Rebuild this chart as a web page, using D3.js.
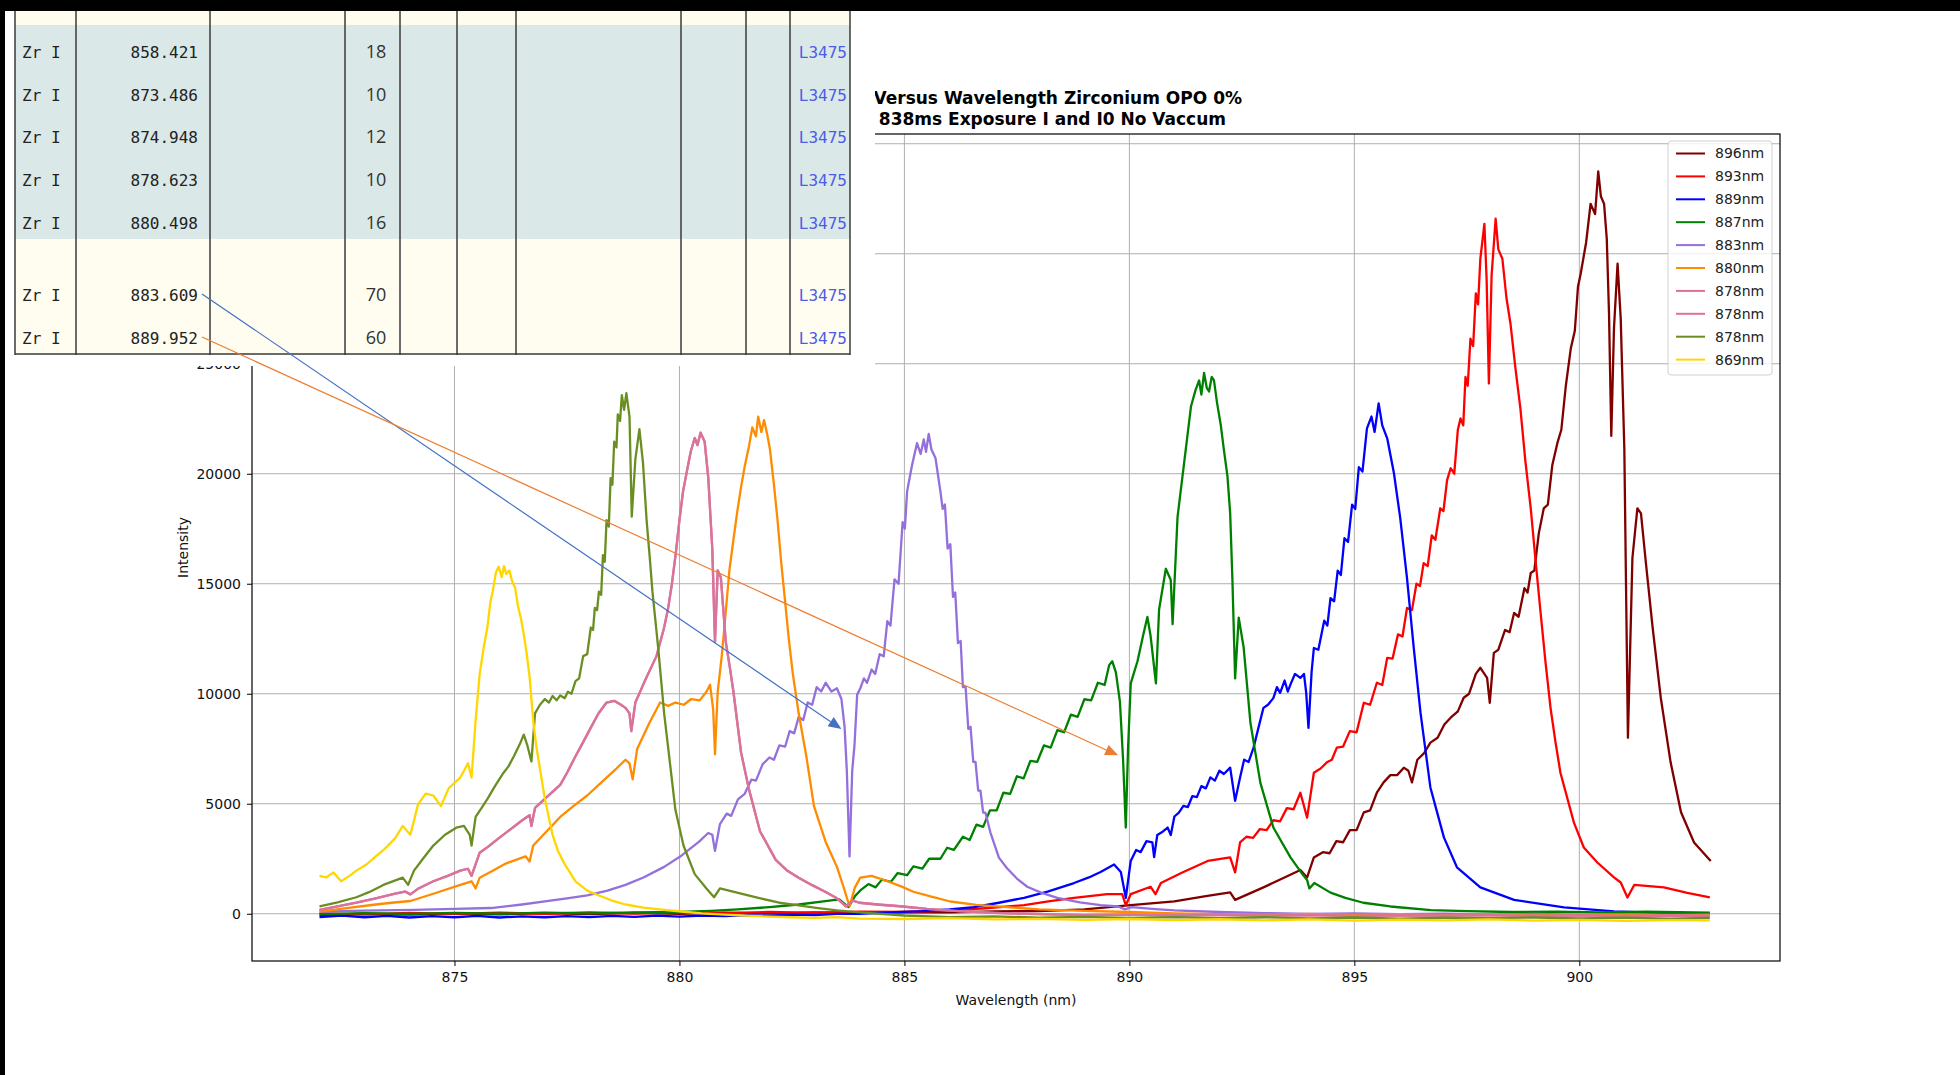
<!DOCTYPE html>
<html>
<head>
<meta charset="utf-8">
<script src="https://cdn.jsdelivr.net/npm/d3@7"></script>
<style>
  html, body { margin: 0; padding: 0; background: #fff; }
  svg { display: block; }
</style>
</head>
<body>
<svg id="chart" width="1960" height="1075"></svg>
<script>
// ---- Spectra: [wavelength (nm), intensity] ----
const s896 = [[872.0,-60],[873,0],[874,-40],[875,20],[876,-30],[877,30],[878,-20],[879,40],[880,0],[881,50],[882,20],[883,60],[884,40],[885,80],[886,60],[887,110],[888,120],[889,200],[890.03,390],[891.0,560],[891.7,800],[892.24,970],[892.35,630],[892.98,1200],[893.4,1600],[893.8,1990],[893.95,1650],[894.1,2560],[894.3,2800],[894.45,2750],[894.6,3300],[894.75,3250],[894.9,3800],[895.05,3800],[895.21,4610],[895.35,4700],[895.5,5500],[895.65,5970],[895.8,6300],[895.95,6300],[896.1,6640],[896.2,6500],[896.28,5970],[896.4,7000],[896.55,7300],[896.69,7780],[896.85,8000],[897.0,8600],[897.14,8910],[897.3,9200],[897.43,9820],[897.55,10000],[897.7,10900],[897.8,11180],[897.95,10720],[898.01,9590],[898.1,11860],[898.2,12000],[898.35,12900],[898.45,12800],[898.55,13670],[898.65,13500],[898.78,14800],[898.85,14600],[898.92,15490],[899.0,15600],[899.1,17300],[899.21,18430],[899.3,18600],[899.4,20400],[899.51,21380],[899.6,22000],[899.7,24000],[899.81,25690],[899.9,26500],[899.97,28500],[900.03,29090],[900.15,30500],[900.25,32270],[900.35,31800],[900.42,33740],[900.48,32600],[900.55,32270],[900.61,30680],[900.66,27280],[900.71,21720],[900.77,26600],[900.85,29550],[900.92,27050],[901.0,21160],[901.08,8000],[901.18,16170],[901.29,18430],[901.37,18200],[901.48,15940],[901.63,12990],[901.81,9820],[902.03,6870],[902.26,4610],[902.55,3240],[902.85,2560],[902.92,2400]];

const s893 = [[872.0,20],[873,-30],[874,40],[875,-10],[876,50],[877,0],[878,60],[879,10],[880,70],[881,20],[882,80],[883,40],[884,100],[885,80],[886,150],[886.8,250],[887.66,390],[888.2,560],[888.77,724],[889.51,890],[889.84,890],[889.92,390],[890.03,890],[890.47,1228],[890.58,890],[890.7,1396],[891.2,1900],[891.74,2400],[892.24,2560],[892.35,1880],[892.46,3240],[892.6,3500],[892.75,3450],[892.9,3850],[893.05,3800],[893.2,4250],[893.35,4200],[893.5,4800],[893.65,4750],[893.8,5500],[893.95,4370],[894.1,6410],[894.25,6600],[894.4,6900],[894.5,7000],[894.61,7550],[894.75,7600],[894.9,8300],[895.05,8250],[895.21,9590],[895.35,9500],[895.5,10500],[895.62,10400],[895.73,11630],[895.85,11600],[895.97,12700],[896.07,12600],[896.17,13900],[896.28,13800],[896.38,15000],[896.46,14900],[896.54,15940],[896.63,15800],[896.72,17200],[896.8,17000],[896.91,18430],[896.98,18300],[897.06,19700],[897.14,20250],[897.22,20000],[897.3,22000],[897.36,22520],[897.42,22200],[897.47,24400],[897.52,24000],[897.58,26140],[897.64,25800],[897.7,28200],[897.75,27700],[897.8,29770],[897.89,31360],[897.94,28800],[897.99,24100],[898.05,29000],[898.14,31590],[898.2,30200],[898.29,29770],[898.38,28000],[898.47,26820],[898.58,24800],[898.69,22970],[898.8,20600],[898.92,18430],[899.03,16000],[899.14,13670],[899.25,11400],[899.36,9360],[899.47,7800],[899.58,6410],[899.88,4140],[900.1,3010],[900.4,2330],[900.77,1650],[900.92,1420],[901.07,740],[901.22,1310],[901.88,1200],[902.4,950],[902.9,740]];

const s889 = [[872.0,-150],[872.5,-90],[873,-160],[873.5,-100],[874,-170],[874.5,-110],[875,-160],[875.5,-100],[876,-170],[876.5,-120],[877,-160],[877.5,-110],[878,-150],[878.5,-100],[879,-140],[879.5,-90],[880,-130],[880.5,-80],[881,-110],[881.5,-60],[882,-90],[882.5,-40],[883,-60],[883.5,-10],[884,0],[884.7,60],[885.4,120],[886,200],[886.54,300],[887.1,500],[887.66,724],[888.2,1020],[888.77,1396],[889.1,1650],[889.36,1900],[889.66,2236],[889.81,1900],[889.92,724],[890.03,2400],[890.15,2900],[890.25,2800],[890.38,3300],[890.51,3244],[890.55,2570],[890.62,3580],[890.72,3700],[890.85,3916],[890.92,3580],[891.0,4420],[891.1,4600],[891.2,4900],[891.3,4850],[891.4,5350],[891.5,5300],[891.6,5800],[891.7,5700],[891.8,6200],[891.9,6050],[892.0,6500],[892.1,6350],[892.24,6640],[892.35,5130],[892.46,6190],[892.55,7000],[892.65,6900],[892.76,7550],[892.85,8300],[892.98,9360],[893.08,9500],[893.2,9800],[893.28,10300],[893.35,10040],[893.45,10600],[893.52,10100],[893.59,10470],[893.68,10900],[893.8,10720],[893.88,10900],[893.93,10040],[893.98,8450],[894.05,11000],[894.1,12080],[894.2,12000],[894.33,13320],[894.4,13100],[894.47,14350],[894.55,14200],[894.63,15600],[894.7,15400],[894.78,17070],[894.86,16900],[894.95,18600],[895.02,18400],[895.1,20300],[895.18,20100],[895.28,22060],[895.38,22600],[895.45,21900],[895.54,23200],[895.62,22200],[895.73,21610],[895.88,20020],[896.02,17980],[896.17,15260],[896.32,12080],[896.47,9140],[896.69,5740],[896.99,3470],[897.28,2110],[897.8,1200],[898.55,630],[899.66,290],[900.77,110],[901.8,40],[902.9,0]];

const s887 = [[872.0,-20],[873,30],[874,-10],[875,40],[876,0],[877,50],[878,20],[879,60],[880,80],[880.7,130],[881.3,200],[882.0,300],[882.65,420],[883.2,560],[883.55,650],[883.76,300],[883.9,800],[884.02,1060],[884.2,1350],[884.36,1200],[884.5,1550],[884.7,1450],[884.85,1850],[885.06,1750],[885.2,2150],[885.4,2050],[885.55,2500],[885.8,2500],[885.95,3000],[886.1,2900],[886.3,3500],[886.45,3350],[886.6,4050],[886.75,3950],[886.9,4700],[887.05,4700],[887.2,5500],[887.35,5450],[887.5,6250],[887.65,6150],[887.8,6950],[887.95,6900],[888.1,7650],[888.25,7550],[888.4,8350],[888.55,8250],[888.7,9050],[888.85,8950],[889.0,9750],[889.15,9700],[889.3,10500],[889.45,10400],[889.55,11300],[889.62,11476],[889.7,10970],[889.79,9630],[889.86,7000],[889.92,3916],[889.97,7500],[890.03,10470],[890.18,11476],[890.3,12600],[890.4,13490],[890.47,12650],[890.59,10470],[890.66,13830],[890.81,15680],[890.92,15170],[890.96,13160],[891.07,18030],[891.22,20550],[891.37,23070],[891.47,23800],[891.55,24240],[891.6,23600],[891.66,24580],[891.72,23900],[891.77,23740],[891.83,24400],[891.88,24240],[891.95,23200],[892.03,22230],[892.1,21100],[892.18,19880],[892.24,18200],[892.29,15170],[892.35,10700],[892.43,13460],[892.54,12100],[892.69,8680],[892.91,5960],[893.2,3920],[893.58,2560],[893.81,1900],[893.95,1530],[894.0,1150],[894.11,1396],[894.47,960],[894.8,720],[895.2,500],[895.8,330],[896.7,160],[897.5,120],[898.5,80],[899.5,100],[900.5,60],[901.5,90],[902.9,50]];

const s883 = [[872.0,100],[873,140],[874.1,180],[875,220],[875.81,260],[876.5,420],[877.09,580],[877.5,700],[877.95,830],[878.4,1050],[878.8,1310],[879.2,1650],[879.66,2130],[880.05,2650],[880.43,3265],[880.64,3670],[880.73,3590],[880.79,2860],[880.9,4075],[881.05,4550],[881.15,4450],[881.3,5200],[881.45,5450],[881.6,6100],[881.7,6050],[881.85,6800],[882.0,7100],[882.1,7000],[882.22,7650],[882.35,7600],[882.45,8300],[882.55,8200],[882.65,8950],[882.75,8800],[882.85,9600],[882.95,9500],[883.05,10300],[883.15,10100],[883.25,10500],[883.38,10100],[883.5,10250],[883.6,9760],[883.67,8500],[883.72,6500],[883.78,2600],[883.84,6500],[883.89,7650],[883.95,9960],[884.02,10250],[884.1,10700],[884.17,10500],[884.27,11100],[884.35,10900],[884.45,11800],[884.54,11700],[884.62,13300],[884.69,13100],[884.78,15200],[884.87,15000],[884.96,17800],[885.01,17500],[885.06,19200],[885.17,20400],[885.28,21390],[885.36,20900],[885.43,21560],[885.48,21000],[885.54,21810],[885.6,21100],[885.69,20720],[885.8,19200],[885.85,18400],[885.9,18600],[885.96,16600],[886.02,16800],[886.08,14400],[886.13,14600],[886.19,12300],[886.25,12400],[886.3,10300],[886.36,10300],[886.42,8400],[886.47,8500],[886.53,6900],[886.58,6900],[886.64,5600],[886.69,5600],[886.75,4600],[886.8,4600],[886.91,3700],[887.1,2550],[887.28,2068],[887.5,1600],[887.73,1228],[888.05,950],[888.4,724],[888.9,520],[889.36,388],[889.75,330],[889.9,200],[890.05,300],[890.5,220],[891,150],[892,80],[893,30],[894,-10],[895,10],[896,-20],[897,0],[898,-30],[899,-10],[900,-40],[901,-20],[902,-50],[902.9,-30]];

const s880 = [[872.0,100],[872.6,260],[873.25,420],[873.6,500],[874.02,580],[874.53,910],[875.13,1310],[875.38,1475],[875.47,1150],[875.56,1640],[875.85,1950],[876.15,2290],[876.58,2610],[876.67,2370],[876.75,3100],[877.05,3750],[877.35,4400],[877.65,4900],[877.95,5375],[878.38,6190],[878.6,6600],[878.8,7000],[878.89,6840],[878.96,6110],[879.06,7490],[879.32,8625],[879.57,9600],[879.75,9450],[879.91,9600],[880.1,9500],[880.26,9760],[880.45,9700],[880.6,10090],[880.68,10410],[880.75,9280],[880.79,7250],[880.85,10090],[880.94,11710],[881.02,13500],[881.11,15610],[881.2,17000],[881.28,18210],[881.37,19400],[881.45,20325],[881.55,21300],[881.62,22110],[881.7,21700],[881.75,22600],[881.82,21900],[881.88,22440],[881.95,21800],[882.01,21140],[882.1,19500],[882.18,17890],[882.26,16000],[882.35,14150],[882.43,12500],[882.52,10900],[882.65,9110],[882.82,7160],[882.99,4890],[883.25,3265],[883.5,2130],[883.65,1200],[883.78,340],[883.9,1200],[884.02,1640],[884.27,1720],[884.6,1500],[884.94,1235],[885.2,1000],[885.6,780],[886.02,556],[886.6,400],[887.28,300],[888,200],[889,130],[890,80],[891,20],[892,-20],[893,-40],[894,-10],[895,-50],[896,-20],[897,-60],[898,-30],[899,-70],[900,-40],[901,-80],[902,-50],[902.9,-70]];

const s878a = [[872.0,180],[872.4,330],[872.82,500],[873.25,700],[873.68,910],[873.9,1010],[874.02,880],[874.2,1150],[874.53,1475],[874.85,1720],[875.13,1960],[875.3,2045],[875.38,1720],[875.56,2775],[875.75,3050],[875.98,3425],[876.25,3850],[876.5,4240],[876.67,4480],[876.71,3990],[876.79,4810],[877.05,5300],[877.35,5860],[877.5,6400],[877.69,7160],[877.86,7800],[878.03,8460],[878.2,9100],[878.38,9600],[878.55,9680],[878.7,9500],[878.8,9360],[878.89,9110],[878.93,8300],[879.02,9600],[879.23,10575],[879.49,11710],[879.66,13010],[879.75,13900],[879.83,14960],[879.92,16400],[880.0,17890],[880.08,19200],[880.17,20160],[880.25,21000],[880.34,21625],[880.4,21300],[880.47,21870],[880.56,21460],[880.64,19840],[880.73,16590],[880.79,12360],[880.85,15610],[880.92,15290],[881.03,12360],[881.12,11200],[881.2,10090],[881.37,7330],[881.54,5700],[881.79,3750],[882.14,2450],[882.4,1950],[882.65,1640],[882.95,1300],[883.25,990],[883.5,700],[883.7,340],[883.85,600],[884.0,500],[884.4,420],[884.9,340],[885.5,220],[886.2,120],[887,40],[888,-20],[889,-60],[890,-40],[891,-80],[892,-50],[893,-90],[894,-60],[895,-100],[896,-70],[897,-90],[898,-60],[899,-100],[900,-70],[901,-110],[902,-80],[902.9,-100]];

const s878b = s878a.map(d => [d[0], d[1]]);

const s878c = [[872.0,340],[872.4,520],[872.82,750],[873.1,980],[873.42,1310],[873.85,1640],[873.97,1310],[874.1,1960],[874.3,2500],[874.53,3100],[874.79,3590],[875.04,3910],[875.21,3990],[875.34,3590],[875.38,3100],[875.47,4400],[875.6,4800],[875.73,5210],[875.9,5800],[876.07,6350],[876.2,6700],[876.32,7160],[876.45,7700],[876.54,8140],[876.62,7650],[876.71,6920],[876.79,9110],[876.9,9500],[877.01,9760],[877.1,9600],[877.18,9900],[877.27,9700],[877.35,9925],[877.45,9800],[877.52,10090],[877.6,10000],[877.69,10575],[877.77,10700],[877.86,11710],[877.95,11800],[878.03,13010],[878.08,12900],[878.12,13900],[878.17,13800],[878.21,14640],[878.26,14500],[878.3,16300],[878.34,16000],[878.38,17890],[878.43,17600],[878.47,19800],[878.51,19500],[878.55,21460],[878.6,21200],[878.63,22700],[878.68,22400],[878.72,23575],[878.77,22900],[878.82,23660],[878.89,22600],[878.94,18050],[879.02,20650],[879.11,22030],[879.19,20490],[879.27,17890],[879.34,16200],[879.4,14640],[879.53,12040],[879.66,9110],[879.79,6840],[879.91,4725],[880.09,3100],[880.34,1800],[880.6,1150],[880.77,750],[880.9,1150],[881.37,910],[881.8,700],[882.22,500],[882.65,380],[883.08,260],[883.5,150],[884,60],[885,-80],[886,-150],[887,-120],[888,-180],[889,-140],[890,-190],[891,-150],[892,-200],[893,-160],[894,-210],[895,-170],[896,-220],[897,-180],[898,-200],[899,-170],[900,-210],[901,-180],[902,-220],[902.9,-190]];

const s869 = [[872.0,1720],[872.15,1650],[872.31,1880],[872.48,1475],[872.65,1700],[872.82,1960],[873.05,2250],[873.25,2610],[873.45,2950],[873.68,3425],[873.85,3990],[874.02,3590],[874.19,4970],[874.36,5460],[874.53,5375],[874.7,4890],[874.87,5700],[875.0,5950],[875.13,6190],[875.3,6840],[875.38,6190],[875.47,8790],[875.56,10900],[875.65,12100],[875.73,13010],[875.8,14200],[875.85,14640],[875.92,15500],[875.98,15775],[876.05,15300],[876.1,15800],[876.15,15450],[876.22,15600],[876.28,15125],[876.35,14800],[876.41,13990],[876.48,13400],[876.54,12690],[876.6,11900],[876.67,10740],[876.75,8790],[876.82,7600],[876.88,6840],[877.01,5210],[877.18,3590],[877.3,2850],[877.44,2290],[877.69,1475],[877.95,1050],[878.21,830],[878.5,600],[878.8,420],[879.2,280],[879.66,180],[880.1,90],[880.5,20],[881,-40],[881.5,-90],[882,-130],[882.5,-160],[883,-190],[883.5,-150],[884,-220],[885,-240],[886,-200],[887,-260],[888,-230],[889,-280],[890,-240],[891,-290],[892,-250],[893,-300],[894,-260],[895,-310],[896,-270],[897,-300],[898,-260],[899,-310],[900,-280],[901,-320],[902,-290],[902.9,-300]];

const seriesNames  = ["896nm","893nm","889nm","887nm","883nm","880nm","878nm","878nm","878nm","869nm"];
const seriesColors = ["#800000","#ff0000","#0000ff","#008000","#9370db","#ff8c00","#db7093","#d9739c","#6b8e23","#ffd700"];
const seriesData   = [s896, s893, s889, s887, s883, s880, s878a, s878b, s878c, s869];

const xTicks = [875, 880, 885, 890, 895, 900];
const yTicks = [0, 5000, 10000, 15000, 20000, 25000, 30000, 35000];

// ---- NIST line list excerpt ----
const lineIons    = ["Zr I","Zr I","Zr I","Zr I","Zr I","Zr I","Zr I"];
const lineWaves   = ["858.421","873.486","874.948","878.623","880.498","883.609","889.952"];
const lineInts    = ["18","10","12","10","16","70","60"];
const lineRefs    = ["L3475","L3475","L3475","L3475","L3475","L3475","L3475"];

// Lines in the list that are pointed at on the spectrum: [row index, wavelength, intensity]
const pointers = [[5, 883.6, 8400], [6, 889.75, 7200]];
const pointerColors = ["#4472c4", "#ed7d31"];

// ---- Layout ----
const W = 1960, H = 1075;
const plot = { left: 252, right: 1780, top: 134, bottom: 961 };
const font = "DejaVu Sans, sans-serif";
const mono = "DejaVu Sans Mono, Liberation Mono, monospace";

const svg = d3.select("#chart");
svg.append("rect").attr("width", W).attr("height", H).attr("fill", "#fff");

const x = d3.scaleLinear().domain([870.5, 904.46]).range([plot.left, plot.right]);
const y = d3.scaleLinear().domain([-2148, 35443]).range([plot.bottom, plot.top]);

// Grid
const grid = svg.append("g").attr("stroke", "#b0b0b0").attr("stroke-width", 1);
grid.selectAll("line.gx").data(xTicks).join("line")
  .attr("x1", d => x(d)).attr("x2", d => x(d))
  .attr("y1", plot.top).attr("y2", plot.bottom);
grid.selectAll("line.gy").data(yTicks).join("line")
  .attr("x1", plot.left).attr("x2", plot.right)
  .attr("y1", d => y(d)).attr("y2", d => y(d));

// Spectra
svg.append("clipPath").attr("id", "plotClip").append("rect")
  .attr("x", plot.left).attr("y", plot.top)
  .attr("width", plot.right - plot.left).attr("height", plot.bottom - plot.top);

const line = d3.line().x(d => x(d[0])).y(d => y(d[1]));
svg.append("g").attr("clip-path", "url(#plotClip)")
  .selectAll("path").data(seriesData).join("path")
  .attr("d", d => line(d))
  .attr("fill", "none")
  .attr("stroke", (d, i) => seriesColors[i])
  .attr("stroke-width", 2.3)
  .attr("stroke-linejoin", "round");

// Frame
svg.append("rect")
  .attr("x", plot.left).attr("y", plot.top)
  .attr("width", plot.right - plot.left).attr("height", plot.bottom - plot.top)
  .attr("fill", "none").attr("stroke", "#000").attr("stroke-width", 1.2);

// Axes
const gx = svg.append("g").attr("transform", `translate(0,${plot.bottom})`)
  .call(d3.axisBottom(x).tickValues(xTicks).tickSize(5).tickPadding(6).tickFormat(d3.format("d")));
gx.select(".domain").remove();
gx.attr("font-family", font).attr("font-size", 14);
gx.selectAll("text").attr("fill", "#111");

const gy = svg.append("g").attr("transform", `translate(${plot.left},0)`)
  .call(d3.axisLeft(y).tickValues(yTicks).tickSize(5).tickPadding(6).tickFormat(d3.format("d")));
gy.select(".domain").remove();
gy.attr("font-family", font).attr("font-size", 14);
gy.selectAll("text").attr("fill", "#111");

svg.append("text")
  .attr("x", (plot.left + plot.right) / 2).attr("y", 1005)
  .attr("text-anchor", "middle").attr("font-family", font).attr("font-size", 14).attr("fill", "#111")
  .text("Wavelength (nm)");

svg.append("text")
  .attr("transform", `translate(188,${(plot.top + plot.bottom) / 2}) rotate(-90)`)
  .attr("text-anchor", "middle").attr("font-family", font).attr("font-size", 14).attr("fill", "#111")
  .text("Intensity");

// Title (left part sits under the line-list panel)
svg.append("text")
  .attr("x", 1242).attr("y", 104)
  .attr("text-anchor", "end").attr("font-family", font).attr("font-weight", "bold")
  .attr("font-size", 17).attr("fill", "#000")
  .text("Versus Wavelength Zirconium OPO 0%");
svg.append("text")
  .attr("x", 1226).attr("y", 125)
  .attr("text-anchor", "end").attr("font-family", font).attr("font-weight", "bold")
  .attr("font-size", 17).attr("fill", "#000")
  .text("838ms Exposure I and I0 No Vaccum");

// Legend
const leg = svg.append("g");
leg.append("rect")
  .attr("x", 1668).attr("y", 141).attr("width", 104).attr("height", 234).attr("rx", 3)
  .attr("fill", "#fff").attr("fill-opacity", 0.8).attr("stroke", "#d0d0d0");
const legItems = leg.selectAll("g.item").data(seriesNames).join("g")
  .attr("transform", (d, i) => `translate(0,${153.5 + i * 22.9})`);
legItems.append("line")
  .attr("x1", 1676).attr("x2", 1705).attr("y1", 0).attr("y2", 0)
  .attr("stroke", (d, i) => seriesColors[i]).attr("stroke-width", 2);
legItems.append("text")
  .attr("x", 1715).attr("y", 0).attr("dy", "0.35em")
  .attr("font-family", font).attr("font-size", 14).attr("fill", "#222")
  .text(d => d);

// Line-list panel
const panel = svg.append("g");
panel.append("rect").attr("x", 0).attr("y", 0).attr("width", 875).attr("height", 366).attr("fill", "#fff");
panel.append("rect").attr("x", 15).attr("y", 11).attr("width", 835).attr("height", 14).attr("fill", "#fefcec");
panel.append("rect").attr("x", 15).attr("y", 25).attr("width", 835).attr("height", 214).attr("fill", "#dae9e8");
panel.append("rect").attr("x", 15).attr("y", 239).attr("width", 835).attr("height", 115).attr("fill", "#fffdf0");
const colEdges = [15, 76, 210, 345, 400, 457, 516, 681, 746, 790, 850];
panel.selectAll("line.col").data(colEdges).join("line")
  .attr("x1", d => d).attr("x2", d => d).attr("y1", 11).attr("y2", 355)
  .attr("stroke", "#3a3a3a").attr("stroke-width", 1.5);
panel.append("line").attr("x1", 15).attr("x2", 850).attr("y1", 354).attr("y2", 354)
  .attr("stroke", "#3a3a3a").attr("stroke-width", 1.5);

const rowY = [52, 95, 137, 180, 223, 295, 338];
const rows = panel.selectAll("g.row").data(lineIons).join("g")
  .attr("transform", (d, i) => `translate(0,${rowY[i]})`);
rows.append("text").attr("x", 22).attr("dy", "0.35em")
  .attr("font-family", mono).attr("font-size", 16).attr("fill", "#222").text(d => d);
rows.append("text").attr("x", 198).attr("dy", "0.35em").attr("text-anchor", "end")
  .attr("font-family", mono).attr("font-size", 16).attr("fill", "#222").text((d, i) => lineWaves[i]);
rows.append("text").attr("x", 376).attr("dy", "0.35em").attr("text-anchor", "middle")
  .attr("font-family", "Open Sans, Noto Sans, sans-serif").attr("font-size", 18).attr("fill", "#333")
  .text((d, i) => lineInts[i]);
rows.append("text").attr("x", 847).attr("dy", "0.35em").attr("text-anchor", "end")
  .attr("font-family", mono).attr("font-size", 16).attr("fill", "#4c5ce6").text((d, i) => lineRefs[i]);

// Pointers from list entries to their dips in the spectrum
pointers.forEach((p, k) => {
  const x0 = 202, y0 = rowY[p[0]] - 1;
  const x1 = x(p[1]), y1 = y(p[2]);
  const ang = Math.atan2(y1 - y0, x1 - x0);
  const len = 13, half = 5.5;
  const bx = x1 - len * Math.cos(ang), by = y1 - len * Math.sin(ang);
  svg.append("line").attr("x1", x0).attr("y1", y0).attr("x2", bx).attr("y2", by)
    .attr("stroke", pointerColors[k]).attr("stroke-width", 1.2);
  const pts = [
    [x1, y1],
    [bx + half * Math.sin(ang), by - half * Math.cos(ang)],
    [bx - half * Math.sin(ang), by + half * Math.cos(ang)]
  ];
  svg.append("polygon").attr("points", pts.map(q => q.join(",")).join(" "))
    .attr("fill", pointerColors[k]);
});

// Border bands
svg.append("rect").attr("x", 0).attr("y", 0).attr("width", W).attr("height", 11).attr("fill", "#000");
svg.append("rect").attr("x", 0).attr("y", 0).attr("width", 5).attr("height", H).attr("fill", "#000");
</script>
</body>
</html>
